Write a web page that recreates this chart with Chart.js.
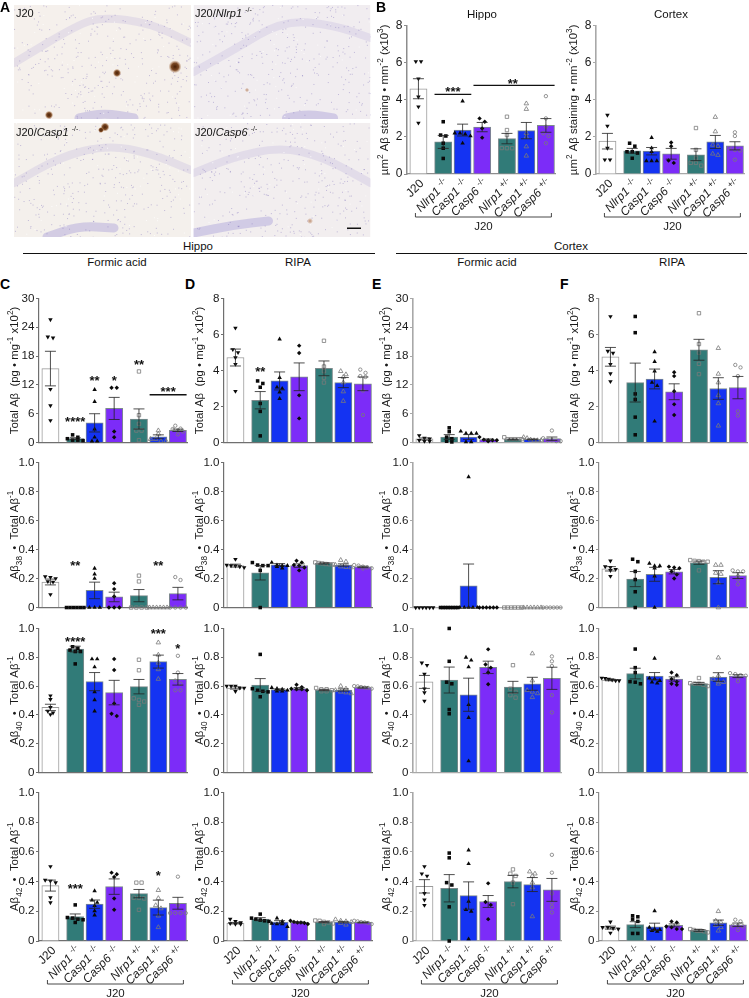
<!DOCTYPE html>
<html>
<head>
<meta charset="utf-8">
<script src="https://cdn.jsdelivr.net/npm/chart.js@4"></script>
<style>
html, body { margin: 0; padding: 0; background: #fff; }
body { position: relative; width: 749px; height: 998px; overflow: hidden; font-family: "Liberation Sans", Arial, sans-serif; color: #111; }
canvas { position: absolute; }
.t { position: absolute; white-space: nowrap; font-size: 11.5px; line-height: 12px; transform: translateX(-50%); }
.l { position: absolute; white-space: nowrap; font-size: 11px; line-height: 12px; }
.l sup { font-size: 7px; line-height: 0; }
.p { position: absolute; font-weight: bold; font-size: 14px; line-height: 14px; color: #000; }
.r { position: absolute; height: 1.4px; background: #111; }
</style>
</head>
<body>
<canvas id="micro" width="380" height="240" style="left:0;top:0"></canvas>
<div class="p" style="left:0;top:0">A</div>
<div class="p" style="left:376px;top:0">B</div>
<div class="p" style="left:0;top:277px">C</div>
<div class="p" style="left:185px;top:277px">D</div>
<div class="p" style="left:372px;top:277px">E</div>
<div class="p" style="left:560px;top:277px">F</div>
<div class="l" style="left:16px;top:7px">J20</div>
<div class="l" style="left:195px;top:7px">J20/<i>Nlrp1</i> <sup>-/-</sup></div>
<div class="l" style="left:16px;top:126px">J20/<i>Casp1</i> <sup>-/-</sup></div>
<div class="l" style="left:195px;top:126px">J20/<i>Casp6</i> <sup>-/-</sup></div>
<div class="t" style="left:198px;top:240px">Hippo</div>
<div class="r" style="left:23px;top:253px;width:352px"></div>
<div class="t" style="left:117px;top:256px">Formic acid</div>
<div class="t" style="left:298px;top:256px">RIPA</div>
<div class="t" style="left:571px;top:240px">Cortex</div>
<div class="r" style="left:396px;top:253px;width:351px"></div>
<div class="t" style="left:487px;top:256px">Formic acid</div>
<div class="t" style="left:672px;top:256px">RIPA</div>
<div class="t" style="left:482px;top:8px">Hippo</div>
<div class="t" style="left:671px;top:8px">Cortex</div>
<script>
// подписи групп
const categories = ['J20', 'Nlrp1', 'Casp1', 'Casp6', 'Nlrp1', 'Casp1', 'Casp6'];
const genotypes = ['', '-/-', '-/-', '-/-', '+/-', '+/-', '+/-'];
const groupSlots = [0, 1.28, 2.28, 3.29, 4.57, 5.57, 6.58];

const tickFine = [0, 0.2, 0.4, 0.6, 0.8, 1.0];
const tickStaining = [0, 2, 4, 6, 8];
const tickFormic = [0, 6, 12, 18, 24, 30];

// B: площадь окрашивания
const bHippoMeans = [4.6, 1.73, 2.37, 2.53, 1.91, 2.34, 2.62];
const bHippoSems = [0.54, 0.35, 0.32, 0.25, 0.28, 0.44, 0.37];
const bHippoPoints = [[6.07, 6.07, 5.14, 4.16, 3.63, 2.75], [2.82, 2.1, 2.05, 1.66, 1.39, 0.84], [3.93, 2.2, 2.15, 2.2, 2.05, 1.66], [3.0, 2.82, 2.46, 1.96], [3.09, 2.37, 2.1, 1.39, 1.39, 1.4], [3.8, 3.5, 2.2, 2.0, 1.48, 0.98], [4.2, 3.0, 2.55, 2.2, 2.05, 1.66]];
const bCortexMeans = [1.77, 1.25, 1.23, 1.09, 1.04, 1.73, 1.52];
const bCortexSems = [0.42, 0.13, 0.2, 0.29, 0.32, 0.35, 0.22];
const bCortexPoints = [[3.18, 2.59, 1.4, 0.77, 0.77], [1.66, 1.5, 1.2, 1.13, 0.85, 1.2], [1.96, 1.4, 1.2, 0.71, 0.71, 0.71], [1.7, 1.5, 0.73, 0.6], [2.48, 1.3, 0.86, 0.6, 0.45, 0.6], [3.07, 2.29, 1.57, 1.5, 1.09, 1.02], [2.25, 2.05, 1.39, 1.3, 1.27, 0.77]];

// C: гиппокамп, муравьиная кислота
const cTotalMeans = [15.4, 0.8, 4.1, 7.1, 4.9, 1.2, 2.55];
const cTotalSems = [3.6, 0.2, 1.9, 2.3, 2.1, 0.4, 0.25];
const cTotalPoints = [[25.6, 22, 21.8, 11.1, 7.7, 4.6], [1.6, 1.1, 0.8, 0.5, 0.5, 0.4], [11, 8.5, 2.8, 1.1, 0.3, 0.3], [11.4, 11.4, 2.3, 1.1], [14.8, 5.7, 3.9, 2.5, 2.5, 0.5], [2.5, 1.8, 0.7, 0.7, 0.3, 0.3], [3.5, 2.9, 2.8, 2.5, 2.3, 1.7]];
const c38Means = [0.176, 0, 0.118, 0.073, 0.082, 0, 0.096];
const c38Sems = [0.02, 0, 0.057, 0.033, 0.042, 0, 0.043];
const c38Points = [[0.213, 0.209, 0.2, 0.18, 0.176, 0.09], [0, 0, 0, 0, 0, 0], [0.27, 0.23, 0.2, 0, 0, 0], [0.167, 0.127, 0.076, 0, 0, 0], [0.22, 0.18, 0, 0, 0, 0], [0, 0, 0, 0, 0, 0], [0.21, 0.19, 0, 0, 0, 0]];
const c40Means = [0.452, 0.857, 0.631, 0.555, 0.596, 0.77, 0.647];
const c40Sems = [0.022, 0.02, 0.063, 0.085, 0.05, 0.045, 0.04];
const c40Points = [[0.533, 0.508, 0.452, 0.426, 0.414, 0.403], [0.862, 0.873, 0.85, 0.84, 0.84, 0.754], [0.788, 0.788, 0.732, 0.56, 0.504, 0.426], [0.788, 0.712, 0.48, 0.408, 0.392], [0.783, 0.71, 0.515, 0.504, 0.493, 0.47], [0.902, 0.817, 0.761, 0.716, 0.649], [0.81, 0.694, 0.638, 0.616, 0.571, 0.571]];
const c42Means = [0.373, 0.165, 0.248, 0.366, 0.319, 0.225, 0.254];
const c42Sems = [0.037, 0.017, 0.028, 0.052, 0.028, 0.05, 0.04];
const c42Points = [[0.502, 0.41, 0.404, 0.393, 0.292, 0.259], [0.243, 0.158, 0.154, 0.147, 0.143, 0.125], [0.337, 0.275, 0.259, 0.237, 0.203, 0.174], [0.46, 0.449, 0.431, 0.286, 0.21], [0.393, 0.393, 0.292, 0.29, 0.286, 0.21], [0.342, 0.288, 0.24, 0.219, 0.17, 0.092], [0.433, 0.241, 0.188, 0.188, 0.188, 0.188]];

// D: гиппокамп, RIPA
const dTotalMeans = [4.72, 2.35, 3.42, 3.65, 4.12, 3.33, 3.26];
const dTotalSems = [0.47, 0.48, 0.5, 0.77, 0.41, 0.28, 0.38];
const dTotalPoints = [[6.36, 5.17, 5, 4.72, 4.35, 2.85], [3.42, 3.28, 3.07, 2.17, 1.73, 0.37], [5.74, 3.6, 3.07, 3, 2.8, 2.44], [5.38, 4.97, 2.62, 1.34], [5.65, 4.22, 3.96, 3.6, 3.33], [3.96, 3.78, 3.64, 3.33, 2.83, 2.3], [4.05, 3.87, 3.69, 3.64, 2.89, 1.53]];
const d38Means = [0.289, 0.24, 0.295, 0.289, 0.304, 0.293, 0.28];
const d38Sems = [0.01, 0.05, 0.008, 0.012, 0.004, 0.008, 0.005];
const d38Points = [[0.333, 0.293, 0.289, 0.287, 0.282, 0.276], [0.31, 0.293, 0.289, 0.289, 0.256, 0], [0.31, 0.293, 0.289, 0.282, 0.271, 0.289], [0.322, 0.311, 0.293, 0.289, 0.276, 0.256], [0.311, 0.307, 0.304, 0.3, 0.298, 0.298], [0.327, 0.316, 0.293, 0.282, 0.278, 0.276], [0.293, 0.289, 0.282, 0.276, 0.271, 0.269]];
const d40Means = [0.587, 0.607, 0.575, 0.582, 0.573, 0.573, 0.59];
const d40Sems = [0.008, 0.045, 0.006, 0.008, 0.005, 0.008, 0.004];
const d40Points = [[0.6, 0.6, 0.6, 0.587, 0.587, 0.564], [0.82, 0.582, 0.571, 0.564, 0.56, 0.526], [0.589, 0.582, 0.578, 0.571, 0.564, 0.564], [0.609, 0.593, 0.582, 0.578, 0.578, 0.571], [0.587, 0.578, 0.578, 0.571, 0.564, 0.564], [0.6, 0.582, 0.571, 0.56, 0.555, 0.549], [0.6, 0.598, 0.593, 0.589, 0.587, 0.582]];
const d42Means = [0.12, 0.147, 0.127, 0.125, 0.127, 0.127, 0.125];
const d42Sems = [0.005, 0.01, 0.01, 0.004, 0.004, 0.005, 0.003];
const d42Points = [[0.147, 0.132, 0.125, 0.118, 0.114, 0.114], [0.181, 0.154, 0.147, 0.141, 0.136, 0.132], [0.154, 0.132, 0.118, 0.114, 0.114, 0.096], [0.136, 0.129, 0.125, 0.125, 0.121, 0.114], [0.138, 0.136, 0.129, 0.125, 0.118, 0.114], [0.145, 0.136, 0.132, 0.127, 0.121, 0.109], [0.136, 0.132, 0.127, 0.125, 0.121, 0.114]];

// E: кора, муравьиная кислота
const eTotalMeans = [0.75, 1.15, 1.15, 0.6, 0.65, 0.65, 0.8];
const eTotalSems = [0.2, 0.5, 0.5, 0.15, 0.1, 0.1, 0.35];
const eTotalPoints = [[1.47, 0.93, 0.8, 0.47, 0.27, 0.27], [3.07, 2.27, 1.13, 0.8, 0.27, 0.13], [2.34, 1.9, 1.9, 1.9, 0.13, 0.13], [1.13, 0.6, 0.47, 0.47, 0.47, 0.27], [1.1, 0.7, 0.7, 0.7, 0.7, 0.7], [1.1, 0.9, 0.6, 0.45, 0.45, 0.45], [2.5, 0.9, 0.47, 0.47, 0.3, 0.3]];
const e38Means = [0, 0, 0.15, 0, 0, 0, 0];
const e38Sems = [0, 0, 0.15, 0, 0, 0, 0];
const e38Points = [[0, 0, 0, 0, 0, 0], [0, 0, 0, 0, 0, 0, 0, 0], [0.9, 0, 0, 0, 0, 0], [0, 0, 0, 0, 0, 0], [0, 0, 0, 0, 0, 0], [0, 0, 0, 0, 0, 0], [0, 0, 0, 0, 0, 0]];
const e40Means = [0.629, 0.642, 0.54, 0.73, 0.593, 0.616, 0.654];
const e40Sems = [0.045, 0.09, 0.115, 0.043, 0.04, 0.045, 0.077];
const e40Points = [[0.761, 0.745, 0.683, 0.582, 0.555, 0.497], [1.0, 0.772, 0.627, 0.616, 0.437, 0.408], [0.799, 0.779, 0.732, 0.47, 0.381, 0.08], [0.855, 0.75, 0.728, 0.694, 0.613], [0.745, 0.582, 0.56, 0.537, 0.52], [0.826, 0.638, 0.571, 0.56, 0.549, 0.522], [0.806, 0.772, 0.739, 0.537, 0.417]];
const e42Means = [0.368, 0.355, 0.306, 0.266, 0.4, 0.38, 0.344];
const e42Sems = [0.045, 0.092, 0.092, 0.04, 0.042, 0.047, 0.077];
const e42Points = [[0.502, 0.453, 0.438, 0.321, 0.277, 0.241], [0.592, 0.56, 0.393, 0.377, 0.23, 0], [0.612, 0.52, 0.266, 0.21, 0.199, 0.013], [0.388, 0.263, 0.243, 0.147], [0.482, 0.453, 0.438, 0.393, 0.248], [0.467, 0.453, 0.438, 0.393, 0.36, 0.165], [0.58, 0.46, 0.321, 0.259, 0.23, 0.192]];

// F: кора, RIPA
const fTotalMeans = [4.76, 3.33, 3.53, 2.82, 5.15, 3, 3.05];
const fTotalSems = [0.52, 1.08, 0.55, 0.44, 0.58, 0.6, 0.62];
const fTotalPoints = [[7, 5.08, 4.97, 4.35, 3.83, 3.39], [7, 6.1, 2.7, 2.39, 1.41, 0.43], [5.03, 4.49, 3.96, 3.33, 3.15, 1.18], [3.9, 3.69, 2.85, 2.12, 1.53], [7.18, 5.47, 4.99, 4.37, 3.8], [5.24, 3.81, 3.33, 2.62, 2.17, 0.93], [4.31, 4.17, 3.69, 1.73, 1.5]];
const f38Means = [0.267, 0.196, 0.229, 0.247, 0.309, 0.209, 0.22];
const f38Sems = [0.015, 0.052, 0.048, 0.015, 0.011, 0.045, 0.02];
const f38Points = [[0.322, 0.282, 0.278, 0.264, 0.256, 0.216], [0.333, 0.316, 0.249, 0.193, 0.109, 0], [0.304, 0.287, 0.287, 0.271, 0.216, 0], [0.282, 0.276, 0.271, 0.249, 0.227, 0.2], [0.327, 0.322, 0.32, 0.316, 0.316, 0.256], [0.293, 0.293, 0.238, 0.231, 0.171, 0], [0.256, 0.249, 0.249, 0.216, 0.193, 0.16]];
const f40Means = [0.642, 0.687, 0.669, 0.649, 0.618, 0.663, 0.669];
const f40Sems = [0.005, 0.037, 0.025, 0.015, 0.008, 0.03, 0.01];
const f40Points = [[0.656, 0.654, 0.649, 0.643, 0.638, 0.638], [0.857, 0.728, 0.694, 0.631, 0.627, 0.616], [0.792, 0.654, 0.649, 0.638, 0.627, 0.62], [0.694, 0.676, 0.649, 0.631, 0.616, 0.609], [0.656, 0.62, 0.616, 0.616, 0.609, 0.6], [0.797, 0.672, 0.649, 0.631, 0.627, 0.616], [0.69, 0.683, 0.676, 0.672, 0.66, 0.634]];
const f42Means = [0.09, 0.11, 0.096, 0.105, 0.071, 0.123, 0.109];
const f42Sems = [0.01, 0.02, 0.024, 0.01, 0.006, 0.018, 0.012];
const f42Points = [[0.129, 0.092, 0.092, 0.085, 0.08, 0.054], [0.17, 0.163, 0.147, 0.132, 0.051, 0.051], [0.203, 0.092, 0.08, 0.076, 0.069, 0.065], [0.132, 0.125, 0.098, 0.092, 0.08, 0.08], [0.08, 0.074, 0.069, 0.069, 0.065, 0.058], [0.2, 0.136, 0.125, 0.107, 0.092, 0.069], [0.143, 0.132, 0.103, 0.103, 0.098, 0.074]];

// значимость: [группа, значение, звёзды] и [от, до, значение]
const bHippoStars = [[1.5, 4.62, '***'], [4.3, 5.02, '**']];
const bHippoLines = [[1, 2, 4.3], [3, 6, 4.78]];
const cTotalStars = [[1, 5, '****'], [2, 13.6, '**'], [3, 13.6, '*'], [4, 16.8, '**'], [5.5, 11.2, '***']];
const cTotalLines = [[5, 6, 9.95]];
const dTotalStars = [[1, 4.13, '**']];
const c38Stars = [[1, 0.31, '**'], [5, 0.31, '**']];
const c40Stars = [[1, 0.928, '****'], [5, 0.985, '***'], [6, 0.88, '*']];
const c42Stars = [[1, 0.373, '***'], [5, 0.458, '*']];

const barColors = ['#ffffff', '#317b78', '#1433f2', '#7c2cf8', '#317b78', '#1433f2', '#7c2cf8'];
const markers = [
    { style: 'triangle', rotation: 180, open: false, r: 2.6 },
    { style: 'rect', rotation: 0, open: false, r: 2.5 },
    { style: 'triangle', rotation: 0, open: false, r: 2.6 },
    { style: 'rectRot', rotation: 0, open: false, r: 2.2 },
    { style: 'rect', rotation: 0, open: true, r: 2.4 },
    { style: 'triangle', rotation: 0, open: true, r: 2.6 },
    { style: 'circle', rotation: 0, open: true, r: 1.7 }
];

// подписи осей: s = 1 верхний индекс, s = -1 нижний
const stainTitle = [['µm'], ['2', 1], [' Aβ staining • mm'], ['-2', 1], [' (x10'], ['3', 1], [')']];
const totalTitle = [['Total Aβ  (pg • mg'], ['-1', 1], [' x10'], ['2', 1], [')']];
const fineTitle = n => [['Aβ'], [n, -1], ['  •  Total Aβ'], ['-1', 1]];

const STEP = 19.3;          // шаг групп в пикселях
const AXIS_W = 42;
const X_MIN = -0.59, X_MAX = 7.05;
const FONT = '"Liberation Sans", Arial, sans-serif';
const TITLE_SIZE = 11.4;

// Раскладка точек как в Prism: близкие значения разъезжаются в ряд
function spread(values, group, yMax) {
    const tol = 3.4 / 150 * yMax;
    const sorted = values.slice().sort((a, b) => b - a);
    const out = [];
    let i = 0;
    while (i < sorted.length) {
        let j = i;
        while (j + 1 < sorted.length && sorted[i] - sorted[j + 1] <= tol) j++;
        const n = j - i + 1;
        const gap = n > 1 ? Math.min(0.27, 0.9 / (n - 1)) : 0;
        for (let k = i; k <= j; k++) {
            out.push({ x: groupSlots[group] + (k - i - (n - 1) / 2) * gap, y: sorted[k] });
        }
        i = j + 1;
    }
    return out;
}

function drawRuns(ctx, runs, size, paint) {
    // возвращает ширину; рисует от текущего начала координат
    let x = 0;
    runs.forEach(([text, shift, italic]) => {
        const s = shift ? size * 0.72 : size;
        ctx.font = `${italic ? 'italic ' : ''}${s}px ${FONT}`;
        if (paint) ctx.fillText(text, x, shift ? -shift * size * 0.38 : 0);
        x += ctx.measureText(text).width;
    });
    return x;
}

function decorPlugin(p) {
    return {
        id: 'decor',
        afterDatasetsDraw(chart) {
            const { ctx, scales: { x, y } } = chart;
            const bottom = y.getPixelForValue(0);
            ctx.save();
            // усы ошибок
            ctx.strokeStyle = '#222';
            ctx.lineWidth = 0.8;
            p.means.forEach((m, i) => {
                if (!p.sems[i]) return;
                const cx = x.getPixelForValue(groupSlots[i]);
                const hi = y.getPixelForValue(m + p.sems[i]);
                const lo = y.getPixelForValue(m - p.sems[i]);
                ctx.beginPath();
                ctx.moveTo(cx, hi); ctx.lineTo(cx, lo);
                ctx.moveTo(cx - 5.5, hi); ctx.lineTo(cx + 5.5, hi);
                ctx.moveTo(cx - 5.5, lo); ctx.lineTo(cx + 5.5, lo);
                ctx.stroke();
            });
            // линии и звёзды значимости
            ctx.strokeStyle = '#111';
            ctx.lineWidth = 1.3;
            (p.lines || []).forEach(([a, b, v]) => {
                const py = y.getPixelForValue(v);
                ctx.beginPath();
                ctx.moveTo(x.getPixelForValue(groupSlots[a]) - 8.7, py);
                ctx.lineTo(x.getPixelForValue(groupSlots[b]) + 8.7, py);
                ctx.stroke();
            });
            ctx.fillStyle = '#111';
            ctx.textAlign = 'center';
            ctx.textBaseline = 'alphabetic';
            ctx.font = `bold 13px ${FONT}`;
            (p.stars || []).forEach(([g, v, text]) => {
                const a = Math.floor(g), f = g - a;
                const slot = f ? groupSlots[a] + f * (groupSlots[a + 1] - groupSlots[a]) : groupSlots[a];
                ctx.fillText(text, x.getPixelForValue(slot), y.getPixelForValue(v) + 7.5);
            });
            // подпись оси Y
            ctx.textAlign = 'left';
            ctx.fillStyle = '#1a1a1a';
            const w = drawRuns(ctx, p.title, TITLE_SIZE, false);
            ctx.translate(x.left - (p.titleGap || 25) + 3.5, (y.top + y.bottom) / 2 + w / 2);
            ctx.rotate(-Math.PI / 2);
            drawRuns(ctx, p.title, TITLE_SIZE, true);
            ctx.restore();
            if (!p.labels) return;
            // подписи групп и скобка J20
            ctx.save();
            ctx.fillStyle = '#1a1a1a';
            categories.forEach((name, i) => {
                const runs = genotypes[i] ? [[name, 0, true], [' '], [genotypes[i], 1]] : [[name]];
                const w = drawRuns(ctx, runs, 12, false);
                ctx.save();
                ctx.translate(x.getPixelForValue(groupSlots[i]) + 6, bottom + 10);
                ctx.rotate(-Math.PI / 4);
                ctx.translate(-w, 0);
                drawRuns(ctx, runs, 12, true);
                ctx.restore();
            });
            const x0 = x.getPixelForValue(groupSlots[0]) - 3;
            const x1 = x.getPixelForValue(groupSlots[6]) + 5.5;
            ctx.strokeStyle = '#333';
            ctx.lineWidth = 0.9;
            ctx.beginPath();
            ctx.moveTo(x0, bottom + 39); ctx.lineTo(x0, bottom + 43);
            ctx.lineTo(x1, bottom + 43); ctx.lineTo(x1, bottom + 39);
            ctx.stroke();
            ctx.font = `11.5px ${FONT}`;
            ctx.textAlign = 'center';
            ctx.fillText('J20', (x0 + x1) / 2, bottom + 56);
            ctx.restore();
        }
    };
}

function drawPanel(p) {
    const canvas = document.createElement('canvas');
    const top = p.top - 8, extra = p.labels ? 64 : 4;
    const width = AXIS_W + (X_MAX - X_MIN) * STEP + 4;
    canvas.width = Math.ceil(width);
    canvas.height = 8 + p.height + extra;
    canvas.style.left = (p.axis - AXIS_W) + 'px';
    canvas.style.top = top + 'px';
    document.body.appendChild(canvas);

    const bars = {
        type: 'bar',
        order: 2,
        data: p.means.map((m, i) => ({ x: groupSlots[i], y: m })),
        backgroundColor: barColors,
        borderColor: barColors.map((c, i) => i ? '#7d8a8c' : '#9a9a9a'),
        borderWidth: 1,
        barThickness: 17.2
    };
    const scatters = p.points.map((vals, g) => ({
        type: 'scatter',
        order: 1,
        clip: false,
        data: spread(vals, g, p.ticks[p.ticks.length - 1]),
        pointStyle: markers[g].style,
        rotation: markers[g].rotation,
        radius: markers[g].r,
        hoverRadius: markers[g].r,
        backgroundColor: markers[g].open ? 'rgba(0,0,0,0)' : '#0a0a0a',
        borderColor: markers[g].open ? '#7a7a7a' : '#0a0a0a',
        borderWidth: markers[g].open ? 0.8 : 0
    }));

    new Chart(canvas, {
        data: { datasets: [bars, ...scatters] },
        plugins: [decorPlugin(p)],
        options: {
            responsive: false,
            animation: false,
            layout: { padding: { top: 8, bottom: extra, left: 0, right: 4 } },
            plugins: { legend: { display: false }, tooltip: { enabled: false } },
            scales: {
                x: {
                    type: 'linear',
                    min: X_MIN,
                    max: X_MAX,
                    offset: false,
                    afterFit: s => { s.height = 0; },
                    ticks: { display: false },
                    grid: { display: false },
                    border: { color: p.axisColor || '#6f6f6f', width: 1.2 }
                },
                y: {
                    min: 0,
                    max: p.ticks[p.ticks.length - 1],
                    afterFit: s => { s.width = AXIS_W; },
                    afterBuildTicks: s => { s.ticks = p.ticks.map(v => ({ value: v })); },
                    ticks: {
                        color: '#1a1a1a',
                        padding: 1.5,
                        font: { family: FONT, size: p.tickSize || 11.6 },
                        callback: v => p.ticks[1] === 0.2 && v > 0 ? v.toFixed(1) : String(v)
                    },
                    grid: { drawOnChartArea: false, drawTicks: true, tickLength: 3, color: p.axisColor || '#6f6f6f', lineWidth: 1 },
                    border: { color: p.axisColor || '#6f6f6f', width: p.axisWidth || 1.2 }
                }
            }
        }
    });
}

const rowTop = [298, 462, 628, 792];
const rowHeight = [149.5, 150, 149.5, 149.5];

const columns = [
    { axis: 39, means: [cTotalMeans, c38Means, c40Means, c42Means], sems: [cTotalSems, c38Sems, c40Sems, c42Sems], points: [cTotalPoints, c38Points, c40Points, c42Points], stars: [cTotalStars, c38Stars, c40Stars, c42Stars], lines: [cTotalLines], ticks: tickFormic },
    { axis: 224, means: [dTotalMeans, d38Means, d40Means, d42Means], sems: [dTotalSems, d38Sems, d40Sems, d42Sems], points: [dTotalPoints, d38Points, d40Points, d42Points], stars: [dTotalStars], lines: [], ticks: tickStaining },
    { axis: 413, means: [eTotalMeans, e38Means, e40Means, e42Means], sems: [eTotalSems, e38Sems, e40Sems, e42Sems], points: [eTotalPoints, e38Points, e40Points, e42Points], stars: [], lines: [], ticks: tickFormic, axisColor: '#a8a8a8', axisWidth: 1.6, titleGap: 27 },
    { axis: 599, means: [fTotalMeans, f38Means, f40Means, f42Means], sems: [fTotalSems, f38Sems, f40Sems, f42Sems], points: [fTotalPoints, f38Points, f40Points, f42Points], stars: [], lines: [], ticks: tickStaining, axisColor: '#8d8d8d' }
];

const fineNames = ['38', '40', '42'];
columns.forEach(col => {
    for (let r = 0; r < 4; r++) {
        drawPanel({
            axis: col.axis, top: rowTop[r], height: rowHeight[r],
            means: col.means[r], sems: col.sems[r], points: col.points[r],
            stars: col.stars[r], lines: col.lines[r],
            ticks: r === 0 ? col.ticks : tickFine,
            title: r === 0 ? totalTitle : fineTitle(fineNames[r - 1]),
            labels: r === 3,
            axisColor: col.axisColor, axisWidth: col.axisWidth, titleGap: col.titleGap
        });
    }
});

drawPanel({ axis: 407, top: 25, height: 149.3, means: bHippoMeans, sems: bHippoSems, points: bHippoPoints, stars: bHippoStars, lines: bHippoLines, ticks: tickStaining, title: stainTitle, labels: true, tickSize: 12, titleGap: 23, axisColor: '#8d8d8d', axisWidth: 1.5 });
drawPanel({ axis: 596, top: 25, height: 149.3, means: bCortexMeans, sems: bCortexSems, points: bCortexPoints, ticks: tickStaining, title: stainTitle, labels: true, tickSize: 12, titleGap: 23, axisColor: '#a8a8a8', axisWidth: 1.6 });

// Панель A: микрофотографии, просто фон без данных
function speck(n) {
    const v = Math.sin(n * 12.9898) * 43758.5453;
    return v - Math.floor(v);
}

function drawMicrographs() {
    const c = document.getElementById('micro').getContext('2d');
    const frames = [
        { x: 14, y: 5, bg: '#f5f0ec', band: [[0, 58], [63, 20], [89, 12], [136, 18], [177, 38]], low: [[65, 113], [90, 108], [120, 113]] },
        { x: 193.5, y: 5, bg: '#f1edf0', band: [[0, 67], [40, 45], [90, 15], [140, 20], [177, 33]], low: [[93, 113], [115, 109], [140, 113]] },
        { x: 14, y: 123, bg: '#f4f0ec', band: [[0, 60], [46, 34], [93, 22], [136, 30], [177, 47]], low: [[33, 114], [65, 103], [100, 105]] },
        { x: 193.5, y: 123, bg: '#f2eeef', band: [[0, 50], [40, 34], [87, 24], [130, 34], [177, 60]], low: [[0, 110], [40, 102], [75, 98]] }
    ];
    frames.forEach((f, idx) => {
        c.save();
        c.beginPath();
        c.rect(f.x, f.y, 177, 114);
        c.clip();
        c.fillStyle = f.bg;
        c.fillRect(f.x, f.y, 177, 114);
        c.lineJoin = 'round';
        c.lineCap = 'round';
        [[f.band, 8, 'rgba(185,175,220,0.28)'], [f.low, 9, 'rgba(165,155,215,0.42)']].forEach(([pts, w, col]) => {
            c.strokeStyle = col;
            c.lineWidth = w;
            c.beginPath();
            pts.forEach(([a, b], i) => {
                if (!i) { c.moveTo(f.x + a, f.y + b); return; }
                const [pa, pb] = pts[i - 1];
                c.quadraticCurveTo(f.x + pa, f.y + pb, f.x + (a + pa) / 2, f.y + (b + pb) / 2);
            });
            c.lineTo(f.x + pts[pts.length - 1][0], f.y + pts[pts.length - 1][1]);
            c.stroke();
        });
        // мелкие ядра клеток
        for (let i = 1; i < 380; i++) {
            const sx = speck(i + idx * 1000), sy = speck(i * 1.7 + idx * 2000 + 5);
            c.fillStyle = i % 7 ? 'rgba(125,110,185,0.42)' : 'rgba(255,255,255,0.8)';
            c.fillRect(f.x + sx * 177, f.y + sy * 114, 1, 1);
        }
        c.restore();
    });
    [[175, 66.7, 6.5], [117, 73, 4.2], [49, 115, 4.2], [105, 127, 4.5], [101, 130, 3], [247, 90, 2.2], [310, 221, 3]].forEach(([x, y, r], i) => {
        const g = c.createRadialGradient(x, y, 0, x, y, r);
        const faint = i > 4;
        g.addColorStop(0, faint ? 'rgba(170,110,70,0.7)' : 'rgba(70,30,5,1)');
        g.addColorStop(0.55, faint ? 'rgba(180,120,80,0.4)' : 'rgba(110,55,15,0.9)');
        g.addColorStop(1, 'rgba(170,110,60,0)');
        c.fillStyle = g;
        c.beginPath();
        c.arc(x, y, r, 0, Math.PI * 2);
        c.fill();
    });
    c.fillStyle = '#111';
    c.fillRect(347, 227.5, 14, 1.5);
}
drawMicrographs();
</script>
</body>
</html>
